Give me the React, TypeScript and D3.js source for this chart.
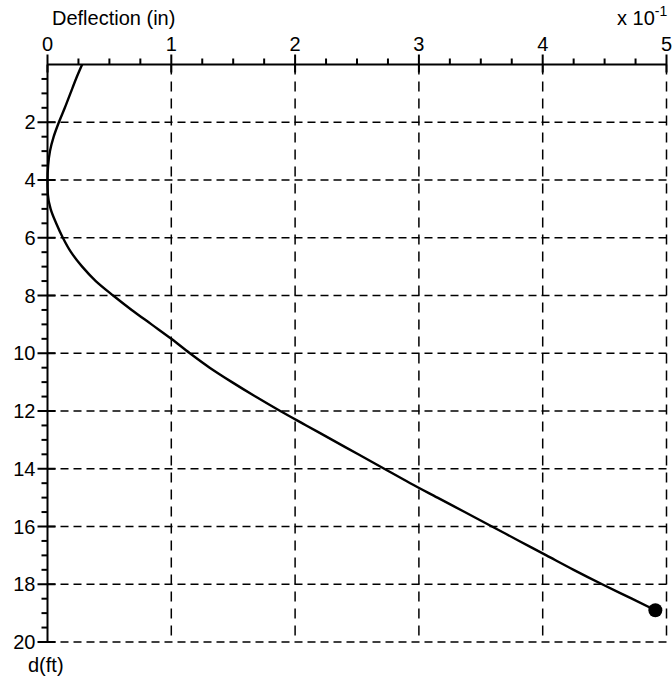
import React from "react";
import * as d3 from "d3";

// depth below top (ft) and deflection (in)
const depthFt = [
  0, 0.5, 1, 1.5, 2, 2.5, 3, 3.5, 4, 4.5, 5, 5.5, 6, 6.5, 7, 7.5, 8, 8.5, 9,
  9.5, 10, 10.5, 11, 11.5, 12, 12.5, 13, 13.5, 14, 14.5, 15, 15.5, 16, 16.5,
  17, 17.5, 18, 18.5, 18.9,
];
const deflectionIn = [
  0.028, 0.023, 0.0185, 0.014, 0.0092, 0.005, 0.002, 0.0005, 0, 0.0003,
  0.0025, 0.007, 0.0124, 0.019, 0.028, 0.039, 0.053, 0.068, 0.084, 0.1,
  0.115, 0.131, 0.149, 0.168, 0.188, 0.209, 0.23, 0.251, 0.272, 0.293, 0.315,
  0.337, 0.359, 0.381, 0.403, 0.425, 0.448, 0.472, 0.491,
];

const xMajor = [0, 0.1, 0.2, 0.3, 0.4, 0.5];
const xLabels = ["0", "1", "2", "3", "4", "5"];
const yMajor = [2, 4, 6, 8, 10, 12, 14, 16, 18, 20];

const xTitle = "Deflection (in)";
const yTitle = "d(ft)";

const font = "'Liberation Sans', Arial, sans-serif";

export default function App() {
  const width = 672;
  const height = 681;
  const left = 47.5;
  const right = 666.5;
  const top = 64.5;
  const bottom = 642;

  const x = d3.scaleLinear().domain([0, 0.5]).range([left, right]);
  const y = d3.scaleLinear().domain([0, 20]).range([top, bottom]);

  // quarter-unit minor ticks on x, half-foot minor ticks on y
  const xMinor = d3.range(0, 0.5001, 0.025).filter((v) => Math.abs(v * 10 - Math.round(v * 10)) > 1e-6);
  const yMinor = d3.range(0.5, 20, 0.5).filter((v) => v % 2 !== 0);

  const pts = depthFt.map((d, i) => [deflectionIn[i], d] as [number, number]);
  const line = d3
    .line<[number, number]>()
    .x((d) => x(d[0]))
    .y((d) => y(d[1]))
    .curve(d3.curveMonotoneY);
  const last = pts[pts.length - 1];

  return (
    <svg
      width={width}
      height={height}
      style={{ position: "absolute", left: 0, top: 0, background: "white" }}
      fontFamily={font}
    >
      {/* grid */}
      <g stroke="black" strokeWidth={1.5} fill="none">
        {xMajor.slice(1).map((v) => (
          <line key={"gx" + v} x1={x(v)} x2={x(v)} y1={top} y2={bottom} strokeDasharray="10,7" />
        ))}
        {yMajor.map((v) => (
          <line key={"gy" + v} x1={left} x2={right} y1={y(v)} y2={y(v)} strokeDasharray="8,5" />
        ))}
      </g>

      {/* axes */}
      <g stroke="black" strokeWidth={2}>
        <line x1={left} x2={right} y1={top} y2={top} />
        <line x1={left} x2={left} y1={top} y2={bottom} />
        {xMajor.map((v) => (
          <line key={"tx" + v} x1={x(v)} x2={x(v)} y1={top - 10} y2={top + 8} />
        ))}
        {xMinor.map((v) => (
          <line key={"mx" + v} x1={x(v)} x2={x(v)} y1={top - 6} y2={top} />
        ))}
        {yMajor.map((v) => (
          <line key={"ty" + v} x1={left - 10} x2={left + 8} y1={y(v)} y2={y(v)} />
        ))}
        {yMinor.map((v) => (
          <line key={"my" + v} x1={left - 6} x2={left} y1={y(v)} y2={y(v)} />
        ))}
      </g>

      {/* tick labels */}
      <g fontSize={20} fill="black">
        {xMajor.map((v, i) => (
          <text key={"lx" + v} x={x(v)} y={top - 14} textAnchor="middle">
            {xLabels[i]}
          </text>
        ))}
        {yMajor.map((v) => (
          <text key={"ly" + v} x={left - 12} y={y(v)} dy="0.35em" textAnchor="end">
            {v}
          </text>
        ))}
        <text x={52} y={25}>{xTitle}</text>
        <text x={617} y={25}>
          x 10
          <tspan fontSize={14} dy={-9}>-1</tspan>
        </text>
        <text x={28} y={672}>{yTitle}</text>
      </g>

      {/* deflection curve */}
      <path d={line(pts) || ""} fill="none" stroke="black" strokeWidth={2.4} />
      <circle cx={x(last[0])} cy={y(last[1])} r={7} fill="black" />
    </svg>
  );
}
